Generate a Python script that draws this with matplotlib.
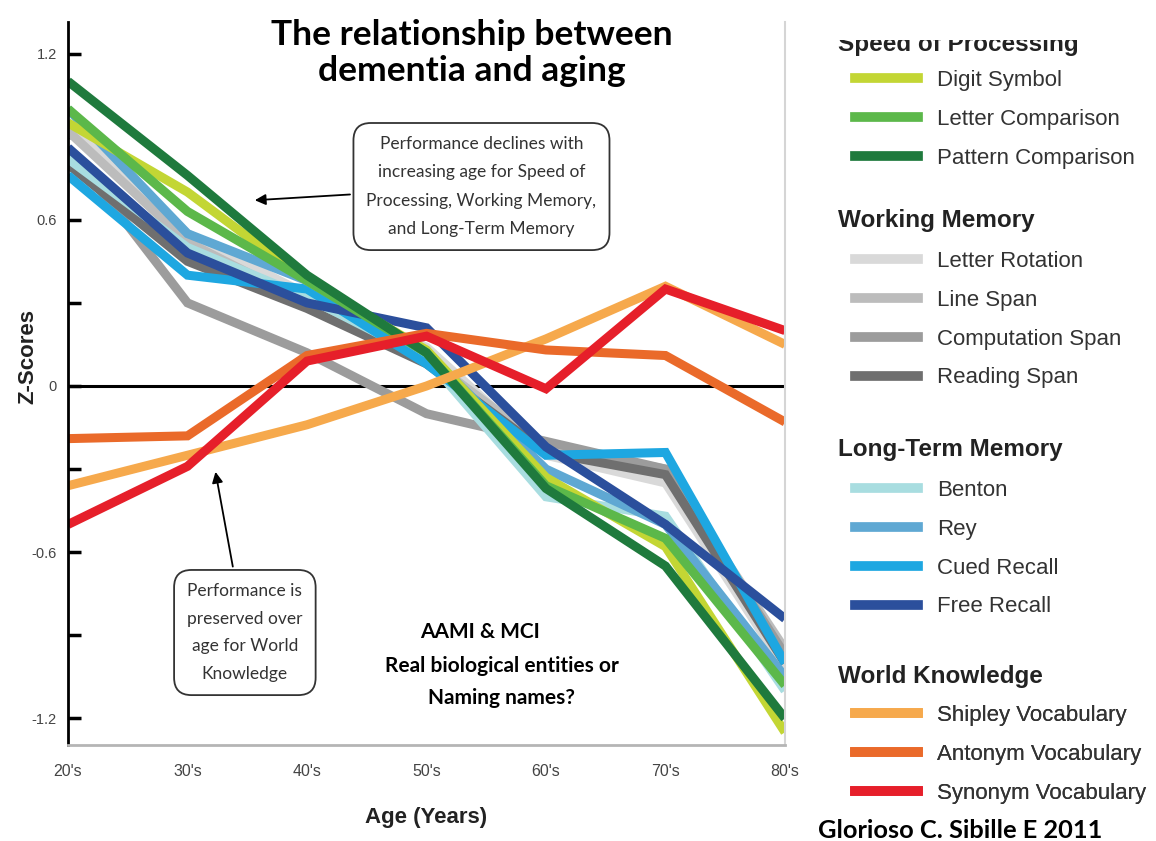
import matplotlib
matplotlib.use("Agg")
import matplotlib.pyplot as plt
from matplotlib.lines import Line2D
from matplotlib.transforms import Bbox, TransformedBbox

# age groups
ages = ["20's", "30's", "40's", "50's", "60's", "70's", "80's"]

# Speed of Processing
digit_symbol = [0.95, 0.70, 0.38, 0.13, -0.33, -0.58, -1.25]
letter_comparison = [1.00, 0.63, 0.38, 0.12, -0.36, -0.55, -1.08]
pattern_comparison = [1.10, 0.76, 0.40, 0.12, -0.37, -0.65, -1.20]

# Working Memory
letter_rotation = [0.95, 0.55, 0.33, 0.14, -0.25, -0.35, -1.02]
line_span = [0.92, 0.52, 0.30, 0.10, -0.22, -0.30, -0.95]
computation_span = [0.86, 0.30, 0.12, -0.10, -0.20, -0.30, -0.97]
reading_span = [0.80, 0.45, 0.28, 0.08, -0.24, -0.32, -1.00]

# Long-Term Memory
benton = [0.82, 0.50, 0.32, 0.10, -0.40, -0.47, -1.10]
rey = [1.00, 0.55, 0.38, 0.12, -0.30, -0.50, -1.05]
cued_recall = [0.76, 0.40, 0.35, 0.08, -0.25, -0.24, -1.00]
free_recall = [0.86, 0.48, 0.30, 0.21, -0.22, -0.50, -0.84]

# World Knowledge
shipley = [-0.36, -0.25, -0.14, 0.00, 0.17, 0.36, 0.15]
antonym = [-0.19, -0.18, 0.11, 0.19, 0.13, 0.11, -0.13]
synonym = [-0.50, -0.29, 0.09, 0.18, -0.01, 0.35, 0.20]

groups = [
    ("Speed of Processing", [
        ("Digit Symbol", digit_symbol, "#c3d634"),
        ("Letter Comparison", letter_comparison, "#5cb84a"),
        ("Pattern Comparison", pattern_comparison, "#1f7a3d")]),
    ("Working Memory", [
        ("Letter Rotation", letter_rotation, "#d9d9d9"),
        ("Line Span", line_span, "#bcbcbc"),
        ("Computation Span", computation_span, "#9c9c9c"),
        ("Reading Span", reading_span, "#6f6f6f")]),
    ("Long-Term Memory", [
        ("Benton", benton, "#a8dde0"),
        ("Rey", rey, "#5fa8d3"),
        ("Cued Recall", cued_recall, "#1ea7e1"),
        ("Free Recall", free_recall, "#2b4f9c")]),
    ("World Knowledge", [
        ("Shipley Vocabulary", shipley, "#f6a94c"),
        ("Antonym Vocabulary", antonym, "#ea6a2a"),
        ("Synonym Vocabulary", synonym, "#e61f2a")]),
]

W, H = 1156, 841
fig = plt.figure(figsize=(W / 100, H / 100), dpi=100)
ax = fig.add_axes([68 / W, 1 - 745 / H, (785 - 68) / W, (745 - 22) / H])

x = list(range(len(ages)))

# draw order: working memory, long-term, speed, world knowledge
order = [1, 2, 0, 3]
for gi in order:
    for name, vals, col in groups[gi][1]:
        ax.plot(x, vals, color=col, lw=6.5, solid_capstyle="butt",
                solid_joinstyle="miter", zorder=2)

ax.axhline(0, color="black", lw=2.2, zorder=1)

ax.set_xlim(0, 6)
ax.set_ylim(-1.296, 1.314)

ax.spines["top"].set_visible(False)
ax.spines["left"].set_color("black")
ax.spines["left"].set_linewidth(2)
ax.spines["bottom"].set_color("#b5b5b5")
ax.spines["bottom"].set_linewidth(2)
ax.spines["right"].set_color("#d5d5d5")
ax.spines["right"].set_linewidth(1.5)

yt = [-1.2, -0.9, -0.6, -0.3, 0, 0.3, 0.6, 0.9, 1.2]
ylab = ["-1.2", "", "-0.6", "", "0", "", "0.6", "", "1.2"]
ax.set_yticks(yt)
ax.set_yticklabels(ylab, fontsize=10.5, color="#444444", family="Liberation Sans")
ax.tick_params(axis="y", direction="in", length=9, width=2.5, pad=8)

ax.set_xticks(x)
ax.set_xticklabels(ages, fontsize=11.5, color="#444444", family="Liberation Sans")
ax.tick_params(axis="x", length=0, pad=14)

ax.set_xlabel("Age (Years)", fontsize=16, fontweight="bold",
              family="Liberation Sans", color="#222222", labelpad=20)
ax.set_ylabel("Z-Scores", fontsize=16, fontweight="bold",
              family="Liberation Sans", color="#222222")
ax.yaxis.set_label_coords(-0.042, 0.537)

# title
fig.text(472 / W, 1 - 53 / H, "The relationship between\ndementia and aging",
         ha="center", va="center", fontsize=25.5, fontweight="bold",
         family="Lato", linespacing=1.12)

# annotations
box = dict(boxstyle="round,pad=0.75,rounding_size=1.0", fc="white",
           ec="#333333", lw=1.3)
arrow = dict(arrowstyle="-|>", color="black", lw=1.3, mutation_scale=16)
ax.annotate("Performance declines with\nincreasing age for Speed of\n"
            "Processing, Working Memory,\nand Long-Term Memory",
            xy=(1.54, 0.67), xytext=(3.46, 0.72), textcoords="data",
            ha="center", va="center", fontsize=12.5, family="Lato",
            color="#333333", linespacing=1.95, bbox=box, arrowprops=arrow,
            zorder=5)
ax.annotate("Performance is\npreserved over\nage for World\nKnowledge",
            xy=(1.23, -0.30), xytext=(1.48, -0.89), textcoords="data",
            ha="center", va="center", fontsize=12.5, family="Lato",
            color="#333333", linespacing=1.9, bbox=box, arrowprops=arrow,
            zorder=5)

fig.text(480 / W, 1 - 632 / H, "AAMI & MCI", ha="center", va="center",
         fontsize=15, fontweight="bold", family="Lato")
fig.text(502 / W, 1 - 682 / H, "Real biological entities or\nNaming names?",
         ha="center", va="center", fontsize=15, fontweight="bold",
         family="Lato", linespacing=1.75)

fig.text(818 / W, 1 - 830 / H, "Glorioso C. Sibille E 2011", ha="left",
         va="center", fontsize=18.3, fontweight="bold", family="Lato")

# legend: one block per group, heading drawn as text
head_y = [44, 221, 449, 676]
first_y = [81, 262, 491, 716]
clip = TransformedBbox(Bbox([[0.0, 0.0], [1.0, 1 - 40 / H]]), fig.transFigure)
for (gname, items), hy, fy in zip(groups, head_y, first_y):
    t = fig.text(838 / W, 1 - hy / H, gname, ha="left", va="center",
                 fontsize=17.5, fontweight="bold", family="Liberation Sans",
                 color="#222222")
    t.set_clip_box(clip)
    t.set_clip_on(True)
    handles = [Line2D([], [], color=c, lw=7) for _, _, c in items]
    labels = [n for n, _, _ in items]
    leg = ax.legend(handles, labels, loc="upper left",
                    bbox_to_anchor=(855 / W, 1 - (fy - 11) / H),
                    bbox_transform=fig.transFigure, frameon=False,
                    borderpad=0, borderaxespad=0, handlelength=2.85,
                    handletextpad=0.85, labelspacing=0.80,
                    prop={"family": "Liberation Sans", "size": 16})
    for txt in leg.get_texts():
        txt.set_color("#333333")
    ax.add_artist(leg)

fig.savefig("out.png", dpi=100)
